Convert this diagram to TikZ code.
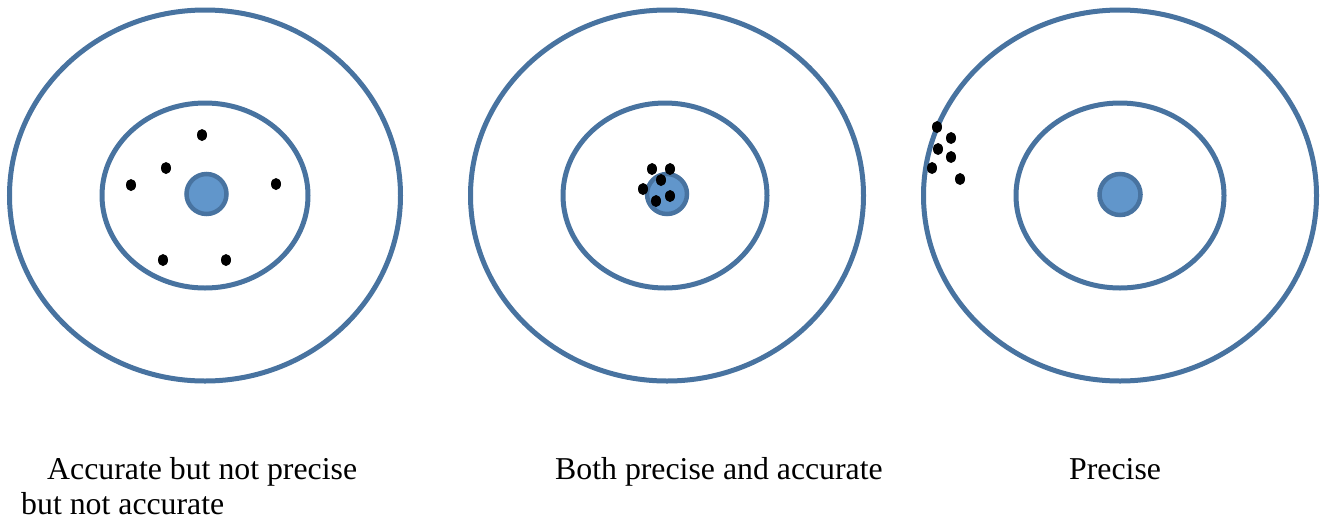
\documentclass[tikz,border=0pt]{standalone}
\usepackage{fontspec}
\setmainfont{Liberation Serif}
\definecolor{ringblue}{RGB}{72,115,160}
\definecolor{bullblue}{RGB}{97,150,203}
\tikzset{
  ring/.style={draw=ringblue, line width=5pt},
  bull/.style={draw=ringblue, fill=bullblue, line width=4.5pt},
  shot/.style={fill=black},
  caption/.style={anchor=base west, inner sep=0pt, font=\fontsize{31.8}{36}\selectfont}
}
\begin{document}
\begin{tikzpicture}[x=1pt,y=-1pt]
\useasboundingbox (0,0) rectangle (1324,520);
% target 1
\draw[ring] (205,195.5) ellipse [x radius=195.5, y radius=185.5];
\draw[ring] (205,195.5) ellipse [x radius=103, y radius=92.5];
\draw[bull] (206.5,194) circle [radius=20];
\foreach \p in {(202,135),(166,168),(131,185),(276,184),(163,260),(226,260)}
  \fill[shot] \p ellipse [x radius=5, y radius=6];
% target 2
\draw[ring] (667,195.5) ellipse [x radius=196.5, y radius=185.5];
\draw[ring] (665,195.5) ellipse [x radius=102, y radius=92.5];
\draw[bull] (667,194) circle [radius=20];
\foreach \p in {(652,169),(670,169),(661,180),(643,189),(670,196),(656,201)}
  \fill[shot] \p ellipse [x radius=5, y radius=6];
% target 3
\draw[ring] (1120,195.5) ellipse [x radius=196.5, y radius=185.5];
\draw[ring] (1120,195.5) ellipse [x radius=104, y radius=92.5];
\draw[bull] (1120,194.5) circle [radius=20.5];
\foreach \p in {(937,127),(951,138),(938,149),(951,157),(932,168),(960,179)}
  \fill[shot] \p ellipse [x radius=5, y radius=6];
% captions
\node[caption] (c1) at (47,479) {Accurate but not precise};
\node[caption, text depth=0pt] (c1b) at (21,514) {but not accurate};
\node[caption] (c2) at (555,479) {Both precise and accurate};
\node[caption] (c3) at (1069,479) {Precise};
\end{tikzpicture}
\end{document}
